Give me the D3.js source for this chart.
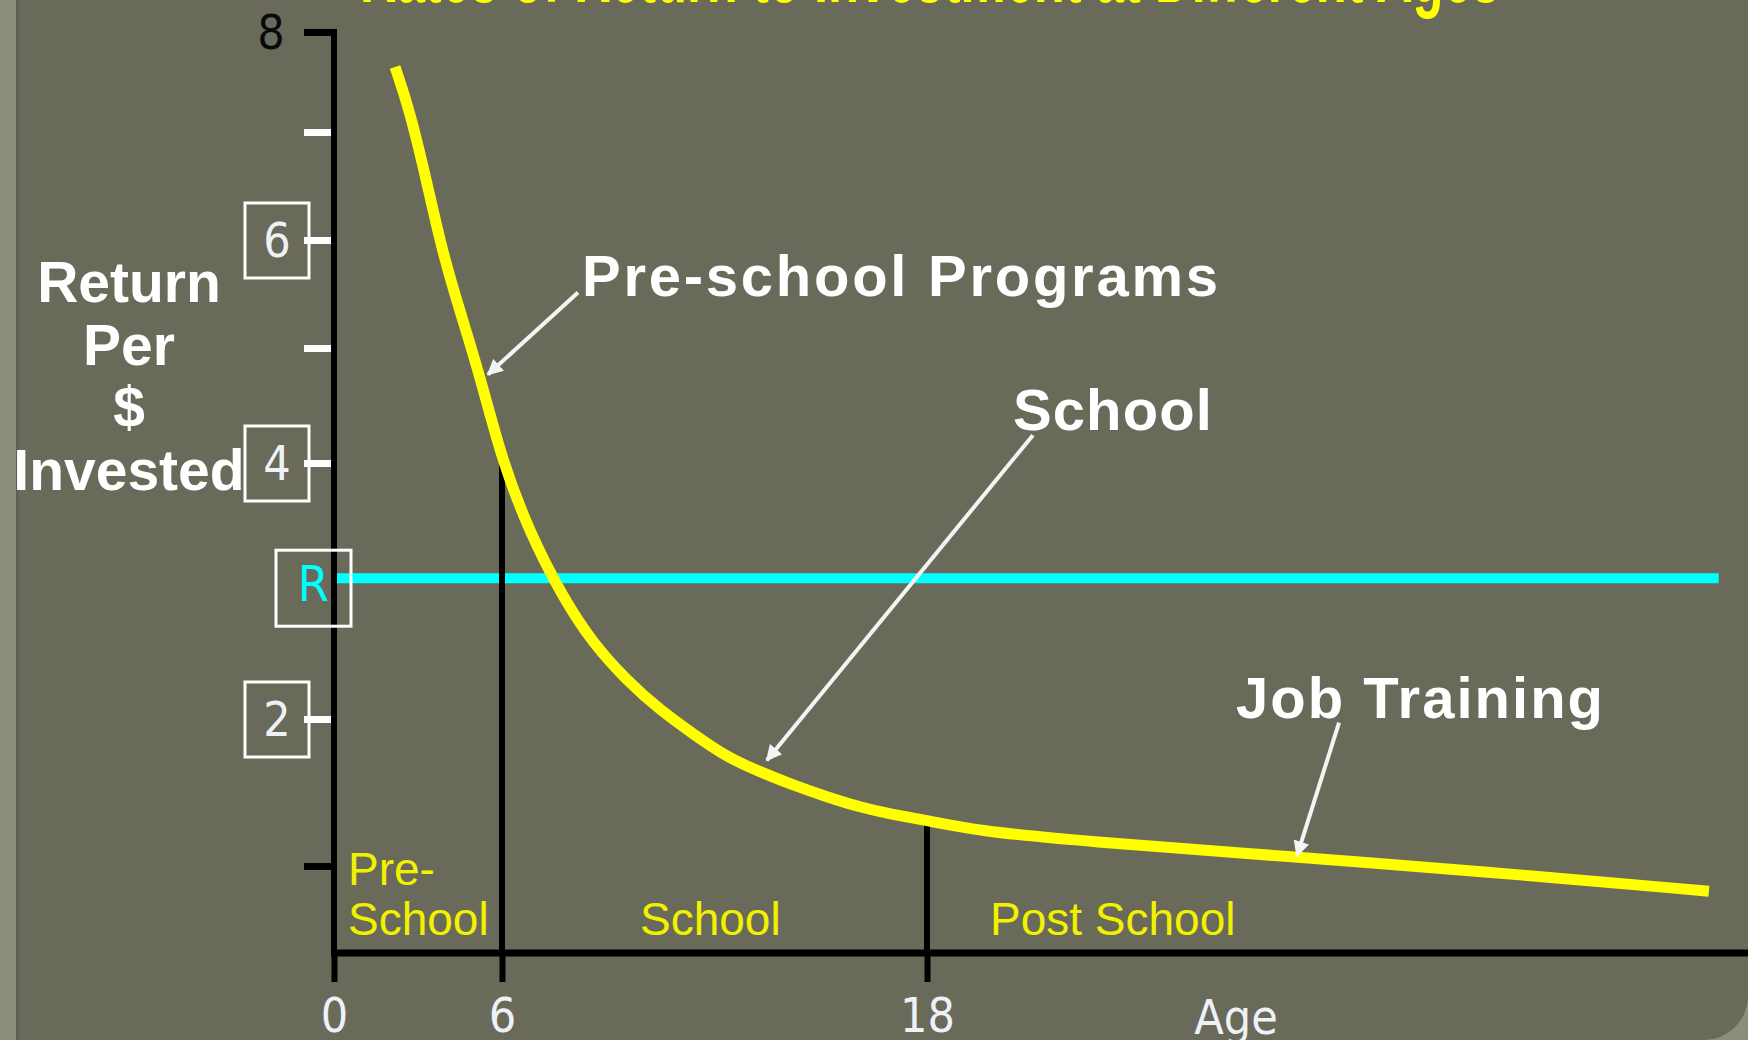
<!DOCTYPE html>
<html>
<head>
<meta charset="utf-8">
<script src="https://cdn.jsdelivr.net/npm/d3@7"></script>
<style>
  html, body { margin: 0; padding: 0; background: #6a6a5b; overflow: hidden; }
  svg { display: block; }
</style>
</head>
<body>
<svg id="chart"></svg>
<script>
// values (age in years, return per $ invested)
const ages = [2.18, 2.71, 3.32, 3.89, 4.5, 5.21, 6.0, 6.79, 7.72, 8.57, 9.53, 10.46, 11.39,
  12.35, 13.29, 14.22, 15.18, 16.11, 17.04, 18.0, 20.56, 25.78, 36.93, 46.29, 58.0];
const returns = [7.65, 7.21, 6.53, 5.87, 5.34, 4.76, 4.02, 3.45, 2.95, 2.59, 2.30, 2.07, 1.90,
  1.74, 1.64, 1.55, 1.47, 1.40, 1.35, 1.31, 1.24, 1.17, 1.06, 0.94, 0.71];
const costOfFunds = 3.1;          // the "R" line
const costLineEnd = 58.5;
const stageBreaks = [0, 6, 18];
const stageNames = [["Pre-", "School"], ["School"], ["Post School"]];
const returnTicks = [8, 7, 6, 5, 4, 2, 1];
const boxedTicks = [6, 4, 2];
const programs = ["Pre-school Programs", "School", "Job Training"];
const programAge = [5.5, 13.48, 36.93];
const programReturn = [4.77, 1.72, 1.07];
const title = "Rates of Return to Investment at Different Ages";

const width = 1748, height = 1040;
const bg = "#6a6a5b";

const svg = d3.select("#chart").attr("width", width).attr("height", height);

// hand drawn slide: axes are piecewise
const x = d3.scaleLinear().domain([0, 6, 18, 60]).range([334, 502, 927, 1748]);
const y = d3.scaleLinear().domain([0, 1, 2, 4, 5, 6, 7, 8]).range([953, 866, 719, 463, 348, 240, 132, 32]);

const narrow = "'Liberation Sans Narrow', 'DejaVu Sans Condensed', 'Liberation Sans', sans-serif";
const bold = "'Liberation Sans', Arial, sans-serif";

// background + window frame bits
svg.append("rect").attr("width", width).attr("height", height).attr("fill", bg);
svg.append("rect").attr("width", 16).attr("height", height).attr("fill", "#8d8d7c");
svg.append("rect").attr("x", 16).attr("width", 3).attr("height", height).attr("fill", "#5f5f51");
svg.append("path")
  .attr("d", `M${width},${height - 44} A44,44 0 0 1 ${width - 44},${height} L${width},${height} Z`)
  .attr("fill", "#8d8d7c");

// title, cut off at the top edge: only letter bottoms show
svg.append("text")
  .attr("x", 930).attr("y", 2)
  .attr("text-anchor", "middle")
  .attr("textLength", 1140).attr("lengthAdjust", "spacingAndGlyphs")
  .attr("font-family", bold).attr("font-weight", "bold").attr("font-size", 80)
  .attr("fill", "#ffff00")
  .text(title);

const defs = svg.append("defs");
defs.append("marker")
  .attr("id", "head")
  .attr("viewBox", "0 0 10 10")
  .attr("refX", 9).attr("refY", 5)
  .attr("markerWidth", 4).attr("markerHeight", 4)
  .attr("markerUnits", "strokeWidth")
  .attr("orient", "auto")
  .append("path").attr("d", "M0,0 L10,5 L0,10 Z").attr("fill", "#f4f4f4");

// cost-of-funds line
svg.append("line")
  .attr("x1", x(0)).attr("x2", x(costLineEnd))
  .attr("y1", y(costOfFunds)).attr("y2", y(costOfFunds))
  .attr("stroke", "#00ffff").attr("stroke-width", 10);

// stage dividers at 6 and 18, from the curve down through the axis
const curveAt = a => returns[ages.indexOf(a)];
svg.selectAll(".divider")
  .data(stageBreaks.slice(1))
  .join("line")
  .attr("class", "divider")
  .attr("x1", d => x(d)).attr("x2", d => x(d))
  .attr("y1", d => y(curveAt(d)) - 4).attr("y2", y(0))
  .attr("stroke", "#000").attr("stroke-width", 6);

// y axis ticks
const yAxis = d3.axisLeft(y).tickValues(returnTicks).tickSize(30).tickFormat("");
const gy = svg.append("g").attr("transform", `translate(${x(0)},0)`).call(yAxis);
gy.select(".domain").remove();
gy.selectAll(".tick line")
  .attr("stroke", d => (d === 8 || d === 1) ? "#000" : "#ffffff")
  .attr("stroke-width", 7);

// x axis
const xAxis = d3.axisBottom(x).tickValues(stageBreaks).tickSize(29).tickPadding(16).tickFormat(d3.format("d"));
const gx = svg.append("g").attr("transform", `translate(0,${y(0)})`).call(xAxis);
gx.select(".domain").remove();
gx.selectAll(".tick line").attr("stroke", "#000").attr("stroke-width", 6);
gx.selectAll(".tick text")
  .attr("font-family", narrow).attr("font-size", 48)
  .attr("fill", "#eef2f6");

svg.append("line")
  .attr("x1", x(0) - 3).attr("x2", width)
  .attr("y1", y(0)).attr("y2", y(0))
  .attr("stroke", "#000").attr("stroke-width", 7);
svg.append("line")
  .attr("x1", x(0)).attr("x2", x(0))
  .attr("y1", y(8) - 3).attr("y2", y(0))
  .attr("stroke", "#000").attr("stroke-width", 6);

svg.append("text")
  .attr("x", 1236).attr("y", 1034)
  .attr("text-anchor", "middle")
  .attr("font-family", narrow).attr("font-size", 48)
  .attr("fill", "#eef2f6")
  .text("Age");

// y labels: plain 8, boxed 6 4 2, boxed R
svg.append("text")
  .attr("x", 271).attr("y", y(8))
  .attr("dy", "0.36em")
  .attr("text-anchor", "middle")
  .attr("font-family", narrow).attr("font-size", 48)
  .attr("fill", "#0a0a0a")
  .text("8");

const boxes = svg.selectAll(".ybox")
  .data(boxedTicks)
  .join("g")
  .attr("class", "ybox")
  .attr("transform", d => `translate(277,${y(d)})`);
boxes.append("rect")
  .attr("x", -32).attr("y", -37).attr("width", 64).attr("height", 75)
  .attr("fill", "none").attr("stroke", "#ffffff").attr("stroke-width", 3);
boxes.append("text")
  .attr("text-anchor", "middle").attr("dy", "0.36em")
  .attr("font-family", narrow).attr("font-size", 48)
  .attr("fill", "#eef2f6")
  .text(d => d);

const rBox = svg.append("g").attr("transform", `translate(313,${y(costOfFunds) + 10})`);
rBox.append("rect")
  .attr("x", -37).attr("y", -38).attr("width", 75).attr("height", 76)
  .attr("fill", "none").attr("stroke", "#ffffff").attr("stroke-width", 3);
rBox.append("text")
  .attr("text-anchor", "middle").attr("y", -5).attr("dy", "0.36em")
  .attr("font-family", narrow).attr("font-size", 50)
  .attr("fill", "#00ffff")
  .text("R");

// y axis title
const yTitle = ["Return", "Per", "$", "Invested"];
svg.append("text")
  .attr("font-family", bold).attr("font-weight", "bold").attr("font-size", 57)
  .attr("fill", "#ffffff").attr("text-anchor", "middle")
  .selectAll("tspan")
  .data(yTitle)
  .join("tspan")
  .attr("x", 129)
  .attr("y", (d, i) => 302 + i * 62.7)
  .text(d => d);

// the return curve
const line = d3.line()
  .x((d, i) => x(ages[i]))
  .y(d => y(d))
  .curve(d3.curveBasis);
svg.append("path")
  .datum(returns)
  .attr("d", line)
  .attr("fill", "none")
  .attr("stroke", "#ffff00")
  .attr("stroke-width", 11)
  .attr("stroke-linecap", "butt");

// stage labels along the bottom
const stageLabelDx = [14, 138, 63];
svg.selectAll(".stage")
  .data(stageNames)
  .join("text")
  .attr("class", "stage")
  .attr("font-family", bold).attr("font-size", 46)
  .attr("fill", "#f2f200")
  .each(function (lines, i) {
    d3.select(this).selectAll("tspan")
      .data(lines)
      .join("tspan")
      .attr("x", x(stageBreaks[i]) + stageLabelDx[i])
      .attr("y", (d, j) => 935 - (lines.length - 1 - j) * 50)
      .text(d => d);
  });

// program callouts: label offset and arrow start, relative to the arrow tip
const labelOffset = [[94, -78], [246, -330], [-61, -138]];
const arrowOffset = [[90, -82], [266, -325], [42, -133]];
const labelWidth = [636, 199, 367];

programs.forEach((name, i) => {
  const tx = x(programAge[i]), ty = y(programReturn[i]);
  svg.append("line")
    .attr("x1", tx + arrowOffset[i][0]).attr("y1", ty + arrowOffset[i][1])
    .attr("x2", tx).attr("y2", ty)
    .attr("stroke", "#f4f4f4").attr("stroke-width", 4)
    .attr("marker-end", "url(#head)");
  svg.append("text")
    .attr("x", tx + labelOffset[i][0]).attr("y", ty + labelOffset[i][1])
    .attr("textLength", labelWidth[i]).attr("lengthAdjust", "spacing")
    .attr("font-family", bold).attr("font-weight", "bold").attr("font-size", 58)
    .attr("fill", "#ffffff")
    .text(name);
});
</script>
</body>
</html>
